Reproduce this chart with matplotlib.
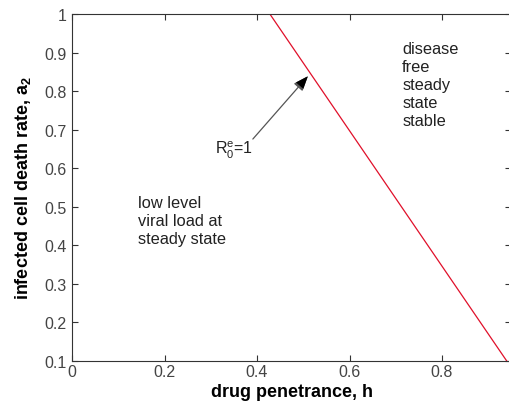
import numpy as np
import matplotlib.pyplot as plt

# Boundary R0^e = 1 in the (h, a2) plane
h_line = [0.428, 0.940]
a2_line = [1.0, 0.1]

x_ticks = [0, 0.2, 0.4, 0.6, 0.8]
x_tick_labels = ["0", "0.2", "0.4", "0.6", "0.8"]
y_ticks = [0.1, 0.2, 0.3, 0.4, 0.5, 0.6, 0.7, 0.8, 0.9, 1.0]
y_tick_labels = ["0.1", "0.2", "0.3", "0.4", "0.5", "0.6", "0.7", "0.8", "0.9", "1"]

plt.rcParams["font.family"] = ["Liberation Sans", "DejaVu Sans"]
plt.rcParams["mathtext.fontset"] = "custom"
plt.rcParams["mathtext.rm"] = "Liberation Sans"
plt.rcParams["mathtext.it"] = "Liberation Sans"
plt.rcParams["mathtext.bf"] = "Liberation Sans:bold"

fig = plt.figure(figsize=(5.09, 4.10), dpi=100, facecolor="white")
ax = fig.add_axes([0.1415, 0.117, 1.0047 - 0.1415, 0.963 - 0.117])

ax.plot(h_line, a2_line, color="#e0102a", linewidth=0.9)

ax.annotate(
    "",
    xy=(0.510, 0.839),
    xytext=(0.391, 0.676),
    arrowprops=dict(arrowstyle="-|>,head_length=0.9,head_width=0.35",
                    color="#555555", linewidth=0.9,
                    shrinkA=0, shrinkB=0),
)
# black filled arrow head drawn on top of the gray shaft
ax.annotate(
    "",
    xy=(0.510, 0.839),
    xytext=(0.486, 0.806),
    arrowprops=dict(arrowstyle="-|>,head_length=0.9,head_width=0.35",
                    color="black", linewidth=0.0,
                    shrinkA=0, shrinkB=0),
)

ax.text(0.350, 0.650, r"R$_0^{\mathrm{e}}$=1", ha="center", va="center",
        fontsize=11.5, color="#222222")
ax.text(0.714, 0.930, "disease\nfree\nsteady\nstate\nstable", ha="left", va="top",
        fontsize=11.8, color="#222222", linespacing=1.24)
ax.text(0.143, 0.530, "low level\nviral load at\nsteady state", ha="left", va="top",
        fontsize=11.8, color="#222222", linespacing=1.24)

ax.set_xlim(0, 0.95)
ax.set_ylim(0.1, 1.0)
ax.set_xticks(x_ticks, x_tick_labels)
ax.set_yticks(y_ticks, y_tick_labels)
ax.tick_params(direction="in", top=True, right=True, length=4, width=0.8,
               labelsize=11.5, labelcolor="#444444", color="#333333")
ax.tick_params(axis="x", pad=2)
ax.tick_params(axis="y", pad=4)

for spine in ax.spines.values():
    spine.set_color("#333333")
    spine.set_linewidth(0.8)

ax.set_xlabel("drug penetrance, h", fontsize=13, fontweight="bold", labelpad=3)
ax.set_ylabel(r"infected cell death rate, a$_\mathbf{2}$", fontsize=13,
              fontweight="bold", labelpad=8)

fig.savefig("out.png", dpi=100, facecolor="white")
